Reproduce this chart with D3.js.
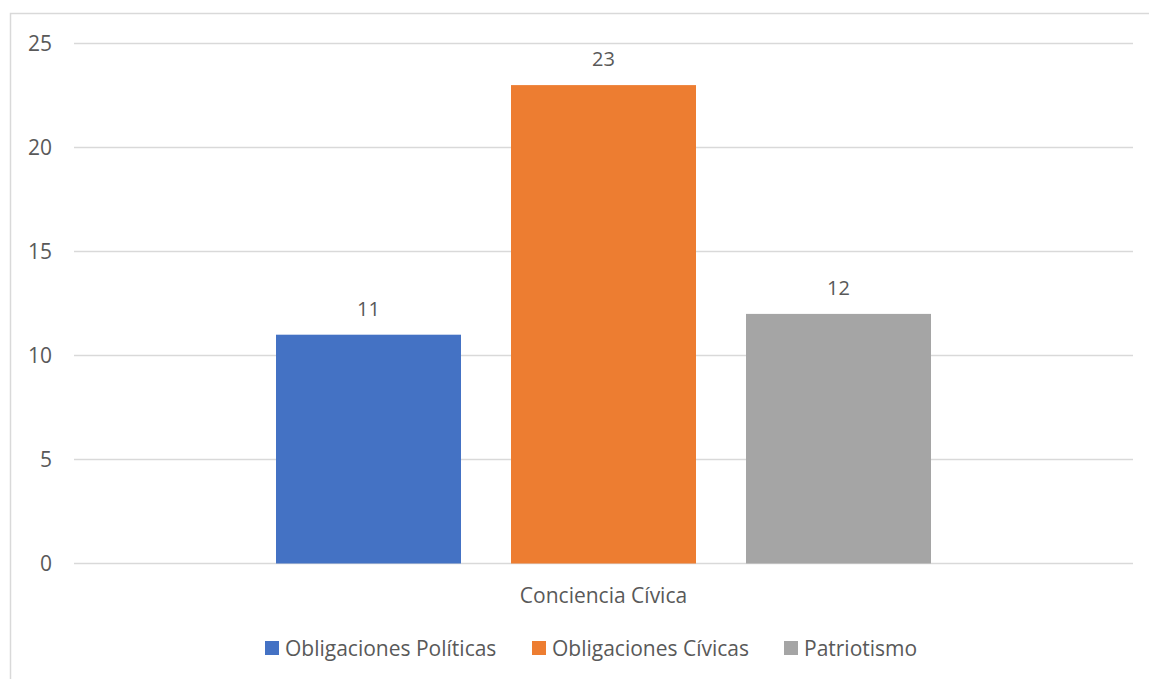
<!DOCTYPE html>
<html>
<head>
	<meta charset="utf-8">
	<title>Conciencia Cívica</title>
	<script type="text/javascript" src="https://d3js.org/d3.v7.min.js"></script>
	<style>
		body { margin: 0; background: #fff; }
		text { font-family: "Open Sans", sans-serif; fill: #595959; }
	</style>
</head>
<body>
	<svg width="1149" height="679"></svg>
	<script type="text/javascript">

	var categories = ["Conciencia Cívica"];
	var series = ["Obligaciones Políticas", "Obligaciones Cívicas", "Patriotismo"];
	var values = [11, 23, 12];
	var colors = ["#4472C4", "#ED7D31", "#A5A5A5"];
	var yTicks = [0, 5, 10, 15, 20, 25];

	var svg = d3.select("svg");
	var plot = {left: 74, right: 1133, top: 43.5, bottom: 563.5};

	// chart frame
	svg.append("rect")
		.attr("x", 10.5).attr("y", 13.5)
		.attr("width", 1150).attr("height", 700)
		.attr("fill", "none")
		.attr("stroke", "#d9d9d9")
		.attr("stroke-width", 1.5);

	var y = d3.scaleLinear().domain([0, 25]).range([plot.bottom, plot.top]);

	var x0 = d3.scaleBand().domain(categories)
		.range([plot.left, plot.right])
		.paddingInner(0).paddingOuter(0.3084);

	var x1 = d3.scaleBand().domain(series)
		.range([0, x0.bandwidth()])
		.paddingInner(0.2128).paddingOuter(0);

	// gridlines
	svg.append("g").selectAll("line")
		.data(yTicks)
		.enter().append("line")
		.attr("x1", plot.left).attr("x2", plot.right)
		.attr("y1", function(d) { return y(d); })
		.attr("y2", function(d) { return y(d); })
		.attr("stroke", "#d9d9d9")
		.attr("stroke-width", 1.3);

	// y axis labels
	var yAxis = svg.append("g")
		.attr("transform", "translate(52,0)")
		.call(d3.axisLeft(y).tickValues(yTicks).tickSize(0).tickPadding(0));
	yAxis.select(".domain").remove();
	yAxis.selectAll("text")
		.style("font-size", "21px")
		.style("font-family", "'Open Sans', sans-serif")
		.attr("fill", "#595959");

	// bars
	var rows = series.map(function(s, i) { return {name: s, value: values[i], color: colors[i]}; });

	var g = svg.append("g")
		.attr("transform", "translate(" + x0(categories[0]) + ",0)");

	g.selectAll(".bar")
		.data(rows)
		.enter().append("rect")
		.attr("class", "bar")
		.attr("x", function(d) { return x1(d.name); })
		.attr("y", function(d) { return y(d.value); })
		.attr("width", x1.bandwidth())
		.attr("height", function(d) { return y(0) - y(d.value); })
		.attr("fill", function(d) { return d.color; });

	g.selectAll(".lbl")
		.data(rows)
		.enter().append("text")
		.attr("class", "lbl")
		.attr("x", function(d) { return x1(d.name) + x1.bandwidth() / 2; })
		.attr("y", function(d) { return y(d.value) - 19; })
		.attr("text-anchor", "middle")
		.style("font-size", "20px")
		.text(function(d) { return d.value; });

	// category label
	svg.append("text")
		.attr("x", x0(categories[0]) + x0.bandwidth() / 2)
		.attr("y", 603)
		.attr("text-anchor", "middle")
		.style("font-size", "21px")
		.text(categories[0]);

	// legend
	var legendX = [265, 532, 784];
	var legend = svg.append("g").selectAll("g")
		.data(rows)
		.enter().append("g")
		.attr("transform", function(d, i) { return "translate(" + legendX[i] + ",641)"; });

	legend.append("rect")
		.attr("width", 14).attr("height", 14)
		.attr("fill", function(d) { return d.color; });

	legend.append("text")
		.attr("x", 20).attr("y", 15)
		.style("font-size", "21px")
		.text(function(d) { return d.name; });

	</script>
</body>
</html>
